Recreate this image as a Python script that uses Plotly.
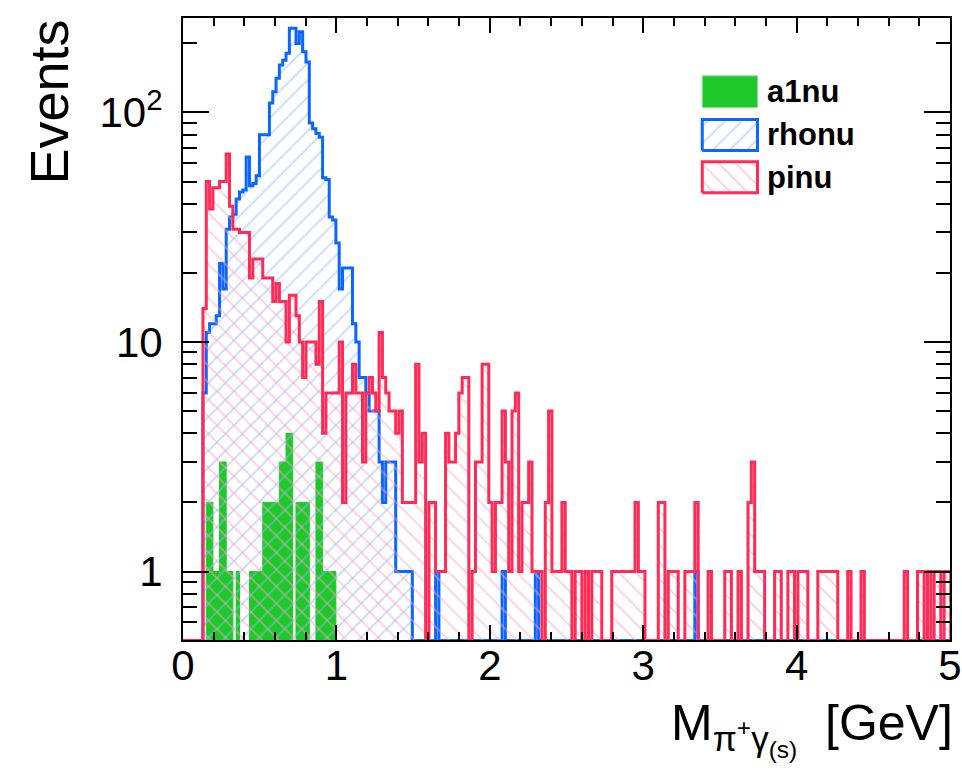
import math
import plotly.graph_objects as go

# ---------------- data (histogram counts, bins of 6.5/300 GeV starting at 0) ----------------
BIN_WIDTH = 6.5 / 300

A1NU = [
    0, 0, 0, 0, 0, 0, 0, 2, 2, 1,
    1, 3, 3, 1, 1, 0, 1, 0, 0, 0,
    1, 1, 1, 1, 2, 2, 2, 2, 2, 3,
    3, 4, 4, 0, 2, 2, 2, 2, 0, 0,
    3, 3, 1, 1, 1, 1, 0, 0, 0, 0,
    0, 0, 0, 0, 0, 0, 0, 0, 0, 0,
    0, 0, 0, 0, 0, 0, 0, 0, 0, 0,
    0, 0, 0, 0, 0, 0, 0, 0, 0, 0,
    0, 0, 0, 0, 0, 0, 0, 0, 0, 0,
    0, 0, 0, 0, 0, 0, 0, 0, 0, 0,
    0, 0, 0, 0, 0, 0, 0, 0, 0, 0,
    0, 0, 0, 0, 0, 0, 0, 0, 0, 0,
    0, 0, 0, 0, 0, 0, 0, 0, 0, 0,
    0, 0, 0, 0, 0, 0, 0, 0, 0, 0,
    0, 0, 0, 0, 0, 0, 0, 0, 0, 0,
    0, 0, 0, 0, 0, 0, 0, 0, 0, 0,
    0, 0, 0, 0, 0, 0, 0, 0, 0, 0,
    0, 0, 0, 0, 0, 0, 0, 0, 0, 0,
    0, 0, 0, 0, 0, 0, 0, 0, 0, 0,
    0, 0, 0, 0, 0, 0, 0, 0, 0, 0,
    0, 0, 0, 0, 0, 0, 0, 0, 0, 0,
    0, 0, 0, 0, 0, 0, 0, 0, 0, 0,
    0, 0, 0, 0, 0, 0, 0, 0, 0, 0,
    0,
]

RHONU = [
    0, 0, 0, 0, 0, 0, 6, 11, 12, 12,
    13, 22, 17, 31, 35, 36, 42, 45, 46, 64,
    48, 49, 53, 80, 80, 80, 110, 123, 141, 161,
    169, 181, 233, 233, 200, 225, 184, 166, 90, 85,
    81, 78, 52, 51, 35, 34, 27, 17, 21, 21,
    21, 12, 10, 7, 7, 6, 5, 5, 5, 3,
    2, 3, 3, 3, 1, 1, 1, 1, 1, 0,
    0, 0, 0, 0, 0, 0, 1, 0, 0, 0,
    0, 0, 0, 0, 0, 0, 0, 0, 0, 0,
    0, 0, 0, 0, 0, 0, 1, 0, 0, 0,
    0, 0, 0, 0, 0, 0, 1, 0, 0, 0,
    0, 0, 0, 0, 0, 0, 0, 0, 0, 0,
    0, 0, 0, 0, 0, 0, 0, 0, 0, 0,
    0, 0, 0, 0, 0, 0, 0, 0, 0, 0,
    0, 0, 0, 0, 0, 0, 0, 0, 0, 0,
    0, 0, 0, 0, 1, 0, 0, 0, 0, 0,
    0, 0, 0, 0, 0, 0, 0, 0, 0, 0,
    0, 0, 0, 0, 0, 0, 0, 0, 0, 0,
    0, 0, 0, 0, 0, 0, 0, 0, 0, 0,
    0, 0, 0, 0, 0, 0, 0, 0, 0, 0,
    0, 0, 0, 0, 0, 0, 0, 0, 0, 0,
    0, 0, 0, 0, 0, 0, 0, 0, 0, 0,
    0, 0, 0, 0, 0, 0, 0, 0, 0, 0,
    0,
]

PINU = [
    0, 0, 0, 0, 0, 0, 14, 50, 38, 47,
    47, 50, 50, 66, 39, 31, 31, 30, 30, 30,
    19, 23, 23, 23, 19, 19, 19, 15, 18, 15,
    15, 10, 16, 16, 13, 10, 7, 10, 10, 10,
    8, 15, 4, 6, 6, 6, 6, 10, 2, 6,
    6, 8, 6, 6, 3, 6, 7, 6, 5, 11,
    7, 6, 5, 5, 4, 5, 2, 2, 2, 2,
    8, 3, 4, 0, 2, 2, 1, 1, 1, 4,
    3, 3, 4, 6, 7, 7, 0, 1, 3, 3,
    8, 8, 2, 1, 2, 2, 5, 3, 1, 5,
    6, 1, 2, 2, 3, 1, 1, 1, 0, 2,
    5, 1, 1, 1, 2, 1, 1, 0, 1, 1,
    0, 1, 0, 1, 1, 1, 0, 0, 0, 1,
    1, 1, 1, 1, 1, 1, 2, 1, 1, 0,
    0, 0, 0, 2, 2, 0, 1, 1, 1, 0,
    0, 1, 1, 1, 2, 0, 0, 0, 1, 0,
    0, 0, 0, 1, 1, 0, 0, 1, 0, 0,
    2, 3, 1, 1, 1, 0, 0, 0, 1, 1,
    0, 0, 1, 1, 0, 1, 1, 1, 0, 0,
    0, 1, 1, 1, 1, 1, 1, 0, 0, 0,
    1, 0, 0, 0, 1, 0, 0, 0, 0, 0,
    0, 0, 0, 0, 0, 0, 0, 1, 0, 0,
    0, 1, 1, 0, 1, 0, 1, 1, 0, 1,
    1,
]

SERIES_NAMES = ["a1nu", "rhonu", "pinu"]
X_TICKS = [0, 1, 2, 3, 4, 5]
Y_TICKS = [1, 10, 100]
Y_TICK_TEXT = ["1", "10", "10<sup>2</sup>"]

# ---------------- style ----------------
GREEN = "#1ec82a"
BLUE = "#0a66ff"
RED = "#ff2a55"
BLUE_HATCH = "#8fb8ff"
RED_HATCH = "#ffa0b6"
FONT = "Liberation Sans, Arial, sans-serif"
Y_MIN, Y_MAX = 0.503, 258.0
FLOOR = 0.5
LW = 3


def step_path(counts):
    n = len(counts)
    edges = [i * BIN_WIDTH for i in range(n + 1)]
    xs = [edges[0]] + edges[:n] + [edges[n]]
    ys = [FLOOR] + [c if c > 0 else FLOOR for c in counts] + [FLOOR]
    return xs, ys


def hatch(shape, color):
    return dict(shape=shape, fgcolor=color, bgcolor="rgba(0,0,0,0)", size=12, solidity=0.16)


fig = go.Figure()

x, y = step_path(A1NU)
fig.add_trace(go.Scatter(x=x, y=y, mode="lines", line=dict(color=GREEN, width=1, shape="hv"),
                         fill="toself", fillcolor=GREEN, name=SERIES_NAMES[0], showlegend=False,
                         hoverinfo="skip"))

x, y = step_path(RHONU)
fig.add_trace(go.Scatter(x=x, y=y, mode="lines", line=dict(color=BLUE, width=LW, shape="hv"),
                         fill="toself", fillcolor="rgba(0,0,0,0)", fillpattern=hatch("/", BLUE_HATCH),
                         name=SERIES_NAMES[1], showlegend=False, hoverinfo="skip"))

x, y = step_path(PINU)
fig.add_trace(go.Scatter(x=x, y=y, mode="lines", line=dict(color=RED, width=LW, shape="hv"),
                         fill="toself", fillcolor="rgba(0,0,0,0)", fillpattern=hatch("\\", RED_HATCH),
                         name=SERIES_NAMES[2], showlegend=False, hoverinfo="skip"))

# ---------------- legend (drawn on an overlay unit axis) ----------------
LEG_X0, LEG_X1 = 0.677, 0.749
LEG_ROWS = [(0.856, 0.907), (0.787, 0.837), (0.719, 0.769)]
leg_styles = [
    dict(line=dict(color="#8fe08f", width=1), fillcolor=GREEN),
    dict(line=dict(color=BLUE, width=LW), fillcolor="rgba(0,0,0,0)", fillpattern=hatch("/", BLUE_HATCH)),
    dict(line=dict(color=RED, width=LW), fillcolor="rgba(0,0,0,0)", fillpattern=hatch("\\", RED_HATCH)),
]
for (v0, v1), st, name in zip(LEG_ROWS, leg_styles, SERIES_NAMES):
    fig.add_trace(go.Scatter(x=[LEG_X0, LEG_X1, LEG_X1, LEG_X0, LEG_X0], y=[v0, v0, v1, v1, v0],
                             mode="lines", fill="toself", xaxis="x2", yaxis="y2",
                             showlegend=False, hoverinfo="skip", **st))
    fig.add_annotation(x=0.759, y=(v0 + v1) / 2, xref="x2", yref="y2", text=name, showarrow=False,
                       xanchor="left", yanchor="middle",
                       font=dict(family=FONT, size=31, color="black", weight="bold"))

fig.update_layout(
    width=962, height=779,
    margin=dict(l=183, r=12, t=18, b=139, autoexpand=False),
    paper_bgcolor="white", plot_bgcolor="white",
    showlegend=False,
    font=dict(family=FONT, color="black"),
    xaxis=dict(range=[0, 5], showgrid=False, zeroline=False, automargin=False,
               showline=True, linecolor="black", linewidth=2, mirror="allticks",
               ticks="inside", ticklen=15, tickwidth=2, tickcolor="black",
               tickvals=X_TICKS, ticktext=[str(v) for v in X_TICKS],
               tickfont=dict(family=FONT, size=42, color="black"), ticklabelstandoff=-12,
               minor=dict(ticks="inside", ticklen=8, tickwidth=2, tickcolor="black",
                          tickvals=[0.2, 0.4, 0.6, 0.8, 1.2, 1.4, 1.6, 1.8, 2.2, 2.4, 2.6, 2.8,
                                    3.2, 3.4, 3.6, 3.8, 4.2, 4.4, 4.6, 4.8], showgrid=False)),
    yaxis=dict(type="log", range=[math.log10(Y_MIN), math.log10(Y_MAX)], showgrid=False, zeroline=False,
               automargin=False,
               showline=True, linecolor="black", linewidth=2, mirror="allticks",
               ticks="inside", ticklen=26, tickwidth=2, tickcolor="black",
               tickvals=Y_TICKS, ticktext=Y_TICK_TEXT,
               tickfont=dict(family=FONT, size=42, color="black"), ticklabelstandoff=10,
               minor=dict(ticks="inside", ticklen=14, tickwidth=2, tickcolor="black",
                          tickvals=[0.6, 0.7, 0.8, 0.9, 2, 3, 4, 5, 6, 7, 8, 9,
                                    20, 30, 40, 50, 60, 70, 80, 90, 200], showgrid=False)),
    xaxis2=dict(overlaying="x", range=[0, 1], visible=False, anchor="y2"),
    yaxis2=dict(overlaying="y", range=[0, 1], visible=False, anchor="x2"),
)

# axis titles (ROOT style: aligned to the axis ends)
fig.add_annotation(x=1.006, y=-0.085, xref="paper", yref="paper", xanchor="right", yanchor="top",
                   text="M<sub>\u03c0<sup>+</sup>\u03b3<sub>(s)</sub></sub>  [GeV]", showarrow=False,
                   font=dict(family=FONT, size=50, color="black"))
fig.add_annotation(x=-0.176, y=1.0, xref="paper", yref="paper", xanchor="center", yanchor="top",
                   text="Events", textangle=-90, showarrow=False,
                   font=dict(family=FONT, size=54, color="black"))

fig.write_html("out.html", config={"displayModeBar": False},
               post_script="document.body.style.margin='0';document.body.style.padding='0';"
                           "document.documentElement.style.overflow='hidden';")
